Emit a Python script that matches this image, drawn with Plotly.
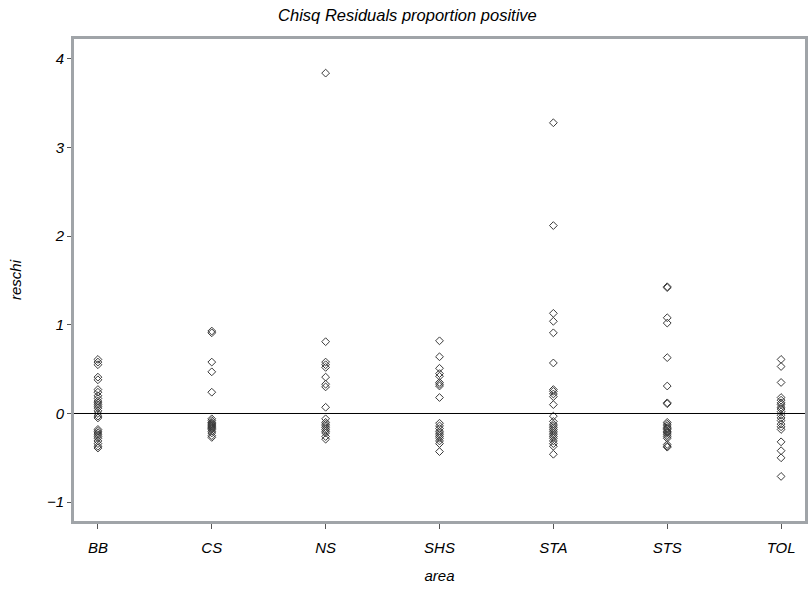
import plotly.graph_objects as go

categories = ["BB", "CS", "NS", "SHS", "STA", "STS", "TOL"]

bb = [0.61, 0.58, 0.55, 0.41, 0.38, 0.27, 0.24, 0.2, 0.17, 0.14, 0.12, 0.1, 0.08,
      0.06, 0.03, 0.0, -0.03, -0.05, -0.18, -0.2, -0.22, -0.24, -0.26, -0.28,
      -0.31, -0.34, -0.37, -0.39]
cs = [0.93, 0.91, 0.58, 0.47, 0.24, -0.06, -0.08, -0.1, -0.11, -0.12, -0.13, -0.14,
      -0.15, -0.16, -0.17, -0.18, -0.2, -0.22, -0.25, -0.27]
ns = [3.84, 0.81, 0.58, 0.55, 0.52, 0.41, 0.33, 0.3, 0.07, -0.06, -0.1, -0.12,
      -0.14, -0.16, -0.18, -0.2, -0.22, -0.26, -0.29]
shs = [0.82, 0.64, 0.51, 0.45, 0.42, 0.35, 0.33, 0.31, 0.18, -0.11, -0.14, -0.17,
       -0.2, -0.22, -0.24, -0.26, -0.28, -0.31, -0.34, -0.43]
sta = [3.28, 2.12, 1.13, 1.04, 0.91, 0.57, 0.27, 0.25, 0.22, 0.19, 0.1, -0.03,
       -0.09, -0.12, -0.14, -0.16, -0.18, -0.2, -0.22, -0.24, -0.26, -0.28, -0.31,
       -0.34, -0.37, -0.46]
sts = [1.43, 1.42, 1.08, 1.02, 0.63, 0.31, 0.12, 0.11, -0.1, -0.12, -0.14, -0.16,
       -0.17, -0.18, -0.2, -0.21, -0.22, -0.24, -0.26, -0.28, -0.35, -0.37, -0.38]
tol = [0.61, 0.53, 0.35, 0.18, 0.15, 0.12, 0.1, 0.07, 0.05, 0.02, -0.02, -0.05,
       -0.08, -0.12, -0.15, -0.18, -0.32, -0.42, -0.5, -0.71]

series = [bb, cs, ns, shs, sta, sts, tol]
y_ticks = [-1, 0, 1, 2, 3, 4]

xs, ys = [], []
for cat, vals in zip(categories, series):
    xs += [cat] * len(vals)
    ys += vals

font_family = "Liberation Sans, Arial, sans-serif"
ital = dict(family=font_family, size=15, color="black", style="italic")

fig = go.Figure()
fig.add_trace(go.Scatter(
    x=xs, y=ys, mode="markers",
    marker=dict(symbol="diamond-open", size=6, color="#3a3a3a",
                line=dict(width=1, color="#3a3a3a")),
    showlegend=False, hoverinfo="x+y",
))

fig.add_hline(y=0, line=dict(color="black", width=1))

fig.update_layout(
    width=810, height=591,
    paper_bgcolor="white", plot_bgcolor="white",
    margin=dict(l=74, r=2, t=39, b=70),
    title=dict(text="Chisq Residuals proportion positive", x=0.503, xanchor="center",
               y=1 - 15 / 591, yanchor="middle",
               font=dict(family=font_family, size=16.5, color="black", style="italic")),
    xaxis=dict(
        type="category", categoryorder="array", categoryarray=categories,
        range=[-0.21, 6.21],
        showline=True, linecolor="#A0A4A8", linewidth=3, mirror=True,
        ticks="outside", ticklen=5, tickcolor="#555555", tickwidth=1,
        ticklabelstandoff=6,
        showgrid=False, zeroline=False,
        tickfont=ital,
        title=dict(text="area", font=ital, standoff=16),
    ),
    yaxis=dict(
        range=[-1.213, 4.225],
        tickvals=y_ticks,
        showline=True, linecolor="#A0A4A8", linewidth=3, mirror=True,
        ticks="outside", ticklen=4, tickcolor="#555555", tickwidth=1,
        showgrid=False, zeroline=False,
        tickfont=ital,
        title=dict(text="reschi", font=ital, standoff=22),
    ),
)

fig.write_html("out.html", config={"displayModeBar": False},
               post_script="document.body.style.margin='0';")
